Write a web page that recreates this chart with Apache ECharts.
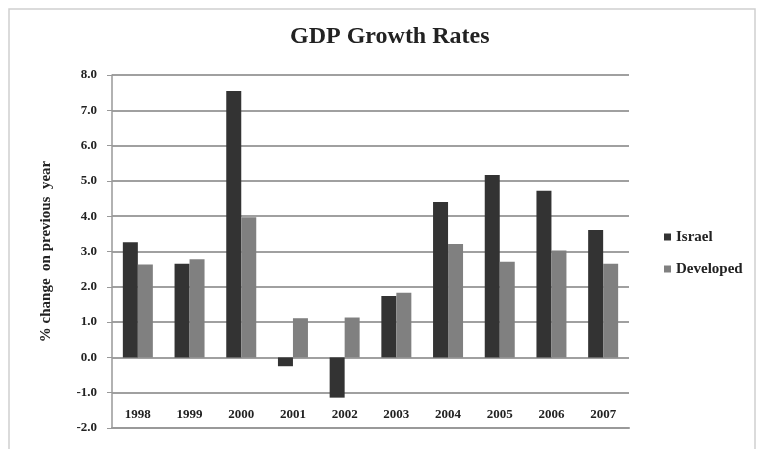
<!DOCTYPE html>
<html><head><meta charset="utf-8">
<script src="https://cdn.jsdelivr.net/npm/echarts@6/dist/echarts.min.js"></script>
<style>html,body{margin:0;padding:0;background:#fff}#c{width:761px;height:449px}</style>
</head><body><div id="c"></div>
<script>
var categories = ['1998','1999','2000','2001','2002','2003','2004','2005','2006','2007'];
var israel = [3.26, 2.65, 7.55, -0.25, -1.14, 1.74, 4.40, 5.17, 4.72, 3.61];
var developed = [2.63, 2.78, 3.97, 1.11, 1.13, 1.83, 3.21, 2.71, 3.03, 2.65];
var seriesNames = ['Israel', 'Developed'];
var titleText = 'GDP Growth Rates';
var yAxisName = '% change  on previous  year';

var chart = echarts.init(document.getElementById('c'));
var serif = '"Liberation Serif", "DejaVu Serif", serif';
chart.setOption({
  animation: false,
  backgroundColor: '#fff',
  graphic: [{
    type: 'rect', shape: {x: 9, y: 9, width: 746, height: 450},
    style: {fill: 'none', stroke: '#d0d0d0', lineWidth: 1.5}, silent: true
  }],
  title: {
    text: titleText, left: 290, top: 25, padding: 0,
    textStyle: {fontFamily: serif, fontSize: 24, fontWeight: 'bold', color: '#222'}
  },
  legend: {
    data: seriesNames, orient: 'vertical', left: 659, top: 224,
    itemWidth: 7, itemHeight: 7, itemGap: 16, icon: 'rect',
    textStyle: {fontFamily: serif, fontSize: 15, fontWeight: 'bold', color: '#222', lineHeight: 16}
  },
  grid: {left: 112, right: 132, top: 75, bottom: 21, containLabel: false},
  xAxis: {
    type: 'category', data: categories, position: 'bottom',
    axisLine: {show: true, onZero: false, lineStyle: {color: '#999', width: 2}},
    axisTick: {show: false},
    axisLabel: {inside: true, margin: 7, color: '#222', fontFamily: serif, fontSize: 13, fontWeight: 'bold'}
  },
  yAxis: {
    type: 'value', min: -2, max: 8, interval: 1,
    name: yAxisName, nameLocation: 'middle', nameGap: 58, nameRotate: 90,
    nameTextStyle: {fontFamily: serif, fontSize: 15, fontWeight: 'bold', color: '#222'},
    axisLine: {show: true, lineStyle: {color: '#999', width: 1.5}},
    axisTick: {show: true, length: 5, lineStyle: {color: '#999'}},
    axisLabel: {formatter: function(v){return v.toFixed(1);}, margin: 15, color: '#222', fontFamily: serif, fontSize: 13, fontWeight: 'bold'},
    splitLine: {show: true, lineStyle: {color: '#a0a0a0', width: 2}}
  },
  series: [
    {name: seriesNames[0], type: 'bar', data: israel, barWidth: 15, barGap: '0%', itemStyle: {color: '#333333'}},
    {name: seriesNames[1], type: 'bar', data: developed, barWidth: 15, barGap: '0%', itemStyle: {color: '#808080'}}
  ]
});
</script></body></html>
